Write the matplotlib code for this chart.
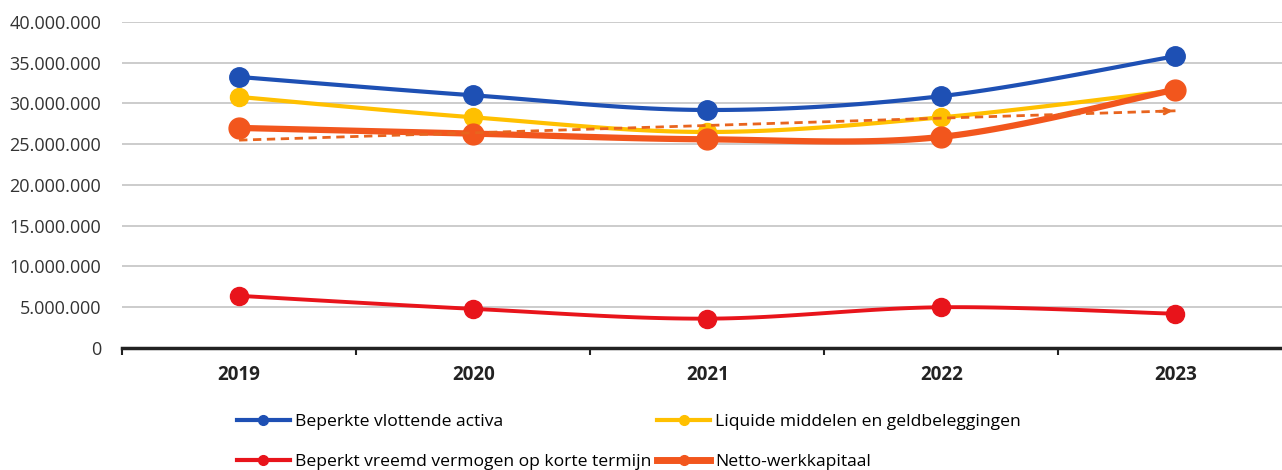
import matplotlib.pyplot as plt
import numpy as np

# values (euro)
years = ['2019', '2020', '2021', '2022', '2023']
vlottende_activa = [33.25e6, 31.0e6, 29.2e6, 30.9e6, 35.8e6]
liquide_middelen = [30.8e6, 28.3e6, 26.5e6, 28.3e6, 31.6e6]
vreemd_vermogen = [6.4e6, 4.8e6, 3.6e6, 5.0e6, 4.2e6]
netto_werkkapitaal = [27.0e6, 26.3e6, 25.6e6, 25.9e6, 31.7e6]


def smooth(x, y, n=30):
    # Excel-style smoothed line (Catmull-Rom through the points)
    x = np.asarray(x, float)
    y = np.asarray(y, float)
    px = np.concatenate([[x[0]], x, [x[-1]]])
    py = np.concatenate([[y[0]], y, [y[-1]]])
    xs, ys = [], []
    t = np.linspace(0, 1, n)
    for i in range(1, len(px) - 2):
        for p, out in ((px, xs), (py, ys)):
            p0, p1, p2, p3 = p[i - 1], p[i], p[i + 1], p[i + 2]
            b1 = p1 + (p2 - p0) / 6
            b2 = p2 - (p3 - p1) / 6
            out.extend((1 - t) ** 3 * p1 + 3 * (1 - t) ** 2 * t * b1
                       + 3 * (1 - t) * t ** 2 * b2 + t ** 3 * p2)
    return np.array(xs), np.array(ys)


x = np.arange(len(years))

plt.rcParams['font.family'] = ['Open Sans', 'DejaVu Sans']
fig = plt.figure(figsize=(12.82, 4.70), dpi=100)
ax = fig.add_axes([0.0952, 0.2596, 0.913, 0.6937])

series = [
    (liquide_middelen, '#FFC000', 3.0, 13),
    (vlottende_activa, '#1E50B4', 3.0, 14),
    (vreemd_vermogen, '#E8141B', 2.8, 13),
    (netto_werkkapitaal, '#F2561D', 4.5, 15),
]
for vals, col, lw, ms in series:
    sx, sy = smooth(x, vals)
    ax.plot(sx, sy, color=col, lw=lw, solid_capstyle='round', zorder=3)
    ax.plot(x, vals, 'o', color=col, ms=ms, zorder=4)

# linear trendline of netto-werkkapitaal
k, b = np.polyfit(x, netto_werkkapitaal, 1)
ax.plot(x, k * x + b, color='#E8641E', lw=2, ls=(0, (3, 2)), zorder=5)
ax.annotate('', xy=(x[-1], k * x[-1] + b), xytext=(x[-1] - 0.08, k * (x[-1] - 0.08) + b),
            arrowprops=dict(arrowstyle='->', color='#E8641E', lw=2), zorder=5)

ax.set_xlim(-0.5, 4.5)
ax.set_ylim(0, 40e6)
ax.set_yticks(np.arange(0, 40e6 + 1, 5e6))
ax.set_yticklabels([f'{int(v):,}'.replace(',', '.') for v in np.arange(0, 40e6 + 1, 5e6)],
                   fontsize=13, color='#333333')
ax.yaxis.grid(True, color='#C8C8C8', lw=1.3)
ax.set_axisbelow(True)
ax.tick_params(axis='y', length=0, pad=15)

ax.set_xticks(np.arange(-0.5, 4.6, 1))
ax.set_xticklabels([])
ax.set_xticks(x, minor=True)
ax.set_xticklabels(years, minor=True, fontsize=13.5, fontweight='bold', color='#222222')
ax.tick_params(axis='x', which='major', length=5, width=1.5, color='#222222', direction='out')
ax.tick_params(axis='x', which='minor', length=0, pad=12)

for s in ['top', 'right', 'left']:
    ax.spines[s].set_visible(False)
ax.spines['bottom'].set_linewidth(2.5)
ax.spines['bottom'].set_color('#222222')

h = [
    plt.Line2D([], [], color='#1E50B4', lw=3, marker='o', ms=7),
    plt.Line2D([], [], color='#E8141B', lw=3, marker='o', ms=7),
    plt.Line2D([], [], color='#FFC000', lw=3, marker='o', ms=7),
    plt.Line2D([], [], color='#F2561D', lw=5, marker='o', ms=7),
]
labels = ['Beperkte vlottende activa', 'Beperkt vreemd vermogen op korte termijn',
          'Liquide middelen en geldbeleggingen', 'Netto-werkkapitaal']
fig.legend(h, labels, ncols=2, loc='upper left', bbox_to_anchor=(0.185, 0.12),
           frameon=False, fontsize=12.6, handlelength=3.0, handletextpad=0.3,
           columnspacing=0.35, labelspacing=1.35, borderaxespad=0, borderpad=0)

plt.savefig('out.png', dpi=100)
